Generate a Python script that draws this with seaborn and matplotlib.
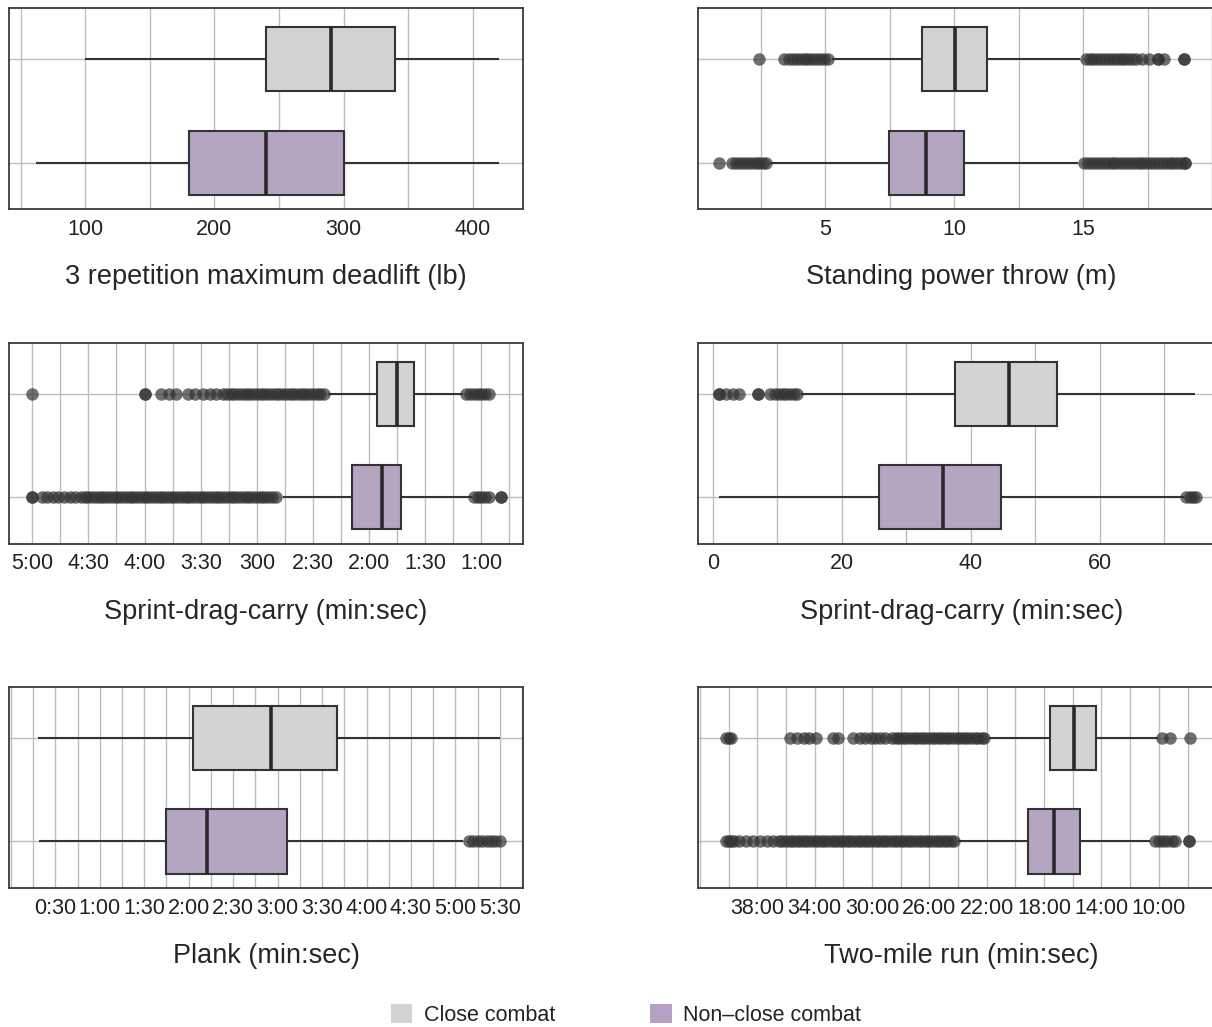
import pandas as pd
import seaborn as sns
import matplotlib
import matplotlib.pyplot as plt
from matplotlib.patches import Patch
from matplotlib.ticker import FixedLocator, MultipleLocator

matplotlib.use('Agg')

# groups and colours
groups = ['Close combat', 'Non\u2013close combat']
group_colors = ['#d2d3d2', '#b4a1c5']

# box summaries: whisker end, q1, median, q3, whisker end
deadlift_close = [100, 240, 290, 340, 420]
deadlift_nonclose = [62, 180, 240, 300, 420]

throw_close = [5.25, 8.74, 10.03, 11.26, 14.88]
throw_nonclose = [2.88, 7.47, 8.92, 10.39, 14.82]
throw_out_close = [2.45, 3.4, 3.6, 3.75, 3.9, 4.05, 4.2, 4.35, 4.5, 4.65, 4.8, 4.95, 5.1,
                   15.1, 15.25, 15.4, 15.55, 15.7, 15.85, 16.0, 16.15, 16.3, 16.45, 16.6,
                   16.75, 16.9, 17.05, 17.3, 17.55, 17.9, 17.9, 18.15, 18.9, 18.9]
throw_out_nonclose = [0.9, 1.4, 1.55, 1.7, 1.85, 2.0, 2.15, 2.3, 2.45, 2.6, 2.7,
                      15.05, 15.2, 15.35, 15.5, 15.65, 15.8, 15.95, 16.1, 16.25, 16.4,
                      16.55, 16.7, 16.85, 17.0, 17.15, 17.3, 17.45, 17.6, 17.75, 17.9,
                      18.05, 18.2, 18.35, 18.5, 18.65, 18.8, 18.95, 18.95]

# sprint-drag-carry, seconds
sdc_close = [70, 96, 105, 116, 142]
sdc_nonclose = [65, 103, 113, 129, 166]
sdc_out_close = [300, 240, 240, 231, 227, 223, 217, 213, 209, 205, 202,
                 198, 196, 194, 192, 190, 188, 186, 184, 182, 180, 178, 176, 174, 172,
                 170, 168, 166, 164, 162, 160, 158, 156, 154, 152, 150, 148, 146, 144,
                 68, 66, 64, 62, 60, 58, 56]
sdc_out_nonclose = [300, 300, 295, 292, 289, 286, 283, 280, 277, 274,
                    272, 270, 268, 266, 264, 262, 260, 258, 256, 254, 252, 250, 248, 246,
                    244, 242, 240, 238, 236, 234, 232, 230, 228, 226, 224, 222, 220, 218,
                    216, 214, 212, 210, 208, 206, 204, 202, 200, 198, 196, 194, 192, 190,
                    188, 186, 184, 182, 180, 178, 176, 174, 172, 170,
                    64, 62, 60, 58, 56, 49.5, 49.5]
sdc_ticks = [300, 270, 240, 210, 180, 150, 120, 90, 60]
sdc_ticklabels = ['5:00', '4:30', '4:00', '3:30', '300', '2:30', '2:00', '1:30', '1:00']

# second sprint-drag-carry panel
sdc2_close = [13.6, 37.5, 45.9, 53.4, 74.7]
sdc2_nonclose = [0.95, 25.8, 35.7, 44.7, 73.05]
sdc2_out_close = [0.95, 0.95, 2.0, 3.05, 4.1, 7.0, 7.0, 8.84,
                  9.6, 10.2, 10.8, 11.4, 12.0, 12.6, 13.1]
sdc2_out_nonclose = [73.4, 73.9, 74.4, 74.9]

# plank, seconds
plank_close = [18.4, 123.2, 175.4, 219.9, 330.2]
plank_nonclose = [19.1, 104.8, 132.1, 186.4, 305.2]
plank_out_close = []
plank_out_nonclose = [309, 312, 315, 318, 321, 324, 327, 330]
plank_ticks = [30, 60, 90, 120, 150, 180, 210, 240, 270, 300, 330]

# two-mile run, minutes
run_close = [10.03, 14.39, 15.9, 17.6, 21.86]
run_nonclose = [10.62, 15.47, 17.32, 19.14, 23.99]
run_out_close = [40.2, 40.0, 39.8, 35.7, 35.2, 34.75, 34.4, 33.9, 32.7, 32.4,
                 31.3, 30.85, 30.5, 30.1, 29.8, 29.45, 29.1,
                 28.6, 28.35, 28.1, 27.85, 27.6, 27.35, 27.1, 26.85, 26.6, 26.35, 26.1,
                 25.85, 25.6, 25.35, 25.1, 24.85, 24.6, 24.35, 24.1, 23.85, 23.6, 23.35,
                 23.1, 22.85, 22.6, 22.35, 22.2,
                 9.8, 9.2, 7.8]
run_out_nonclose = [40.2, 40.0, 39.8, 39.6, 39.3, 38.8, 38.3, 37.8, 37.3, 36.9,
                    36.5, 36.25, 36.0, 35.75, 35.5, 35.25, 35.0, 34.75, 34.5, 34.25,
                    34.0, 33.75, 33.5, 33.25, 33.0, 32.75, 32.5, 32.25, 32.0, 31.75,
                    31.5, 31.25, 31.0, 30.75, 30.5, 30.25, 30.0, 29.75, 29.5, 29.25,
                    29.0, 28.75, 28.5, 28.25, 28.0, 27.75, 27.5, 27.25, 27.0, 26.75,
                    26.5, 26.25, 26.0, 25.75, 25.5, 25.25, 25.0, 24.75, 24.5, 24.3,
                    10.3, 10.0, 9.7, 9.4, 9.1, 8.9, 7.9, 7.9]
run_ticks = [38, 34, 30, 26, 22, 18, 14, 10]

sns.set_theme(style='white')
plt.rcParams['font.family'] = ['Liberation Sans', 'DejaVu Sans']
plt.rcParams['text.color'] = '#222222'
plt.rcParams['xtick.color'] = '#222222'

TICK_FS = 15.5
LABEL_FS = 19.5
EDGE = '#333333'


def draw_panel(ax, box_close, box_nonclose, out_close, out_nonclose):
    """two horizontal boxes plus outlier points"""
    box_df = pd.DataFrame({'group': [groups[0]] * len(box_close) + [groups[1]] * len(box_nonclose),
                           'value': box_close + box_nonclose})
    sns.boxplot(data=box_df, x='value', y='group', hue='group', order=groups, hue_order=groups,
                palette=group_colors, whis=(0, 100), showfliers=False, showcaps=False,
                width=0.62, linewidth=1.5, linecolor=EDGE,
                medianprops={'linewidth': 2.6, 'color': '#2a2a2a'},
                legend=False, ax=ax)
    if out_close or out_nonclose:
        out_df = pd.DataFrame({'group': [groups[0]] * len(out_close) + [groups[1]] * len(out_nonclose),
                               'value': out_close + out_nonclose})
        sns.stripplot(data=out_df, x='value', y='group', order=groups, jitter=False,
                      color=EDGE, alpha=0.7, size=9, linewidth=0, ax=ax, zorder=3)
    ax.set_ylim(1.45, -0.495)
    ax.set_ylabel('')
    ax.set_yticks([0, 1])
    ax.set_yticklabels([])
    ax.set_axisbelow(True)
    ax.grid(True, which='both', color='#bdbdbd', linewidth=1)
    ax.tick_params(which='both', length=0)
    ax.tick_params(axis='x', labelsize=TICK_FS, pad=7)
    for s in ax.spines.values():
        s.set_visible(True)
        s.set_color('#3a3a3a')
        s.set_linewidth(1.3)


fig = plt.figure(figsize=(12.12, 10.27), dpi=100)
W, H = 1212, 1027
col_left = [8.7 / W, 698 / W]
col_width = [514.6 / W, 527 / W]
row_bottom = [1 - 209.2 / H, 1 - 543.6 / H, 1 - 888 / H]
row_height = 201 / H
LABELPAD = 17.5

axes = [[fig.add_axes([col_left[c], row_bottom[r], col_width[c], row_height]) for c in range(2)]
        for r in range(3)]

# deadlift
ax = axes[0][0]
draw_panel(ax, deadlift_close, deadlift_nonclose, [], [])
ax.set_xlim(40.8, 439)
ax.xaxis.set_major_locator(FixedLocator([100, 200, 300, 400]))
ax.xaxis.set_minor_locator(MultipleLocator(50))
ax.set_xlabel('3 repetition maximum deadlift (lb)', fontsize=LABEL_FS, labelpad=LABELPAD)

# standing power throw
ax = axes[0][1]
draw_panel(ax, throw_close, throw_nonclose, throw_out_close, throw_out_nonclose)
ax.set_xlim(0.07, 20.5)
ax.xaxis.set_major_locator(FixedLocator([5, 10, 15]))
ax.xaxis.set_minor_locator(MultipleLocator(2.5))
ax.set_xlabel('Standing power throw (m)', fontsize=LABEL_FS, labelpad=LABELPAD)

# sprint-drag-carry (time, reversed)
ax = axes[1][0]
draw_panel(ax, sdc_close, sdc_nonclose, sdc_out_close, sdc_out_nonclose)
ax.set_xlim(312.6, 37.6)
ax.xaxis.set_major_locator(FixedLocator(sdc_ticks))
ax.set_xticklabels(sdc_ticklabels)
ax.xaxis.set_minor_locator(MultipleLocator(15))
ax.set_xlabel('Sprint-drag-carry (min:sec)', fontsize=LABEL_FS, labelpad=LABELPAD)

# second sprint-drag-carry panel
ax = axes[1][1]
draw_panel(ax, sdc2_close, sdc2_nonclose, sdc2_out_close, sdc2_out_nonclose)
ax.set_xlim(-2.31, 79.4)
ax.xaxis.set_major_locator(FixedLocator([0, 20, 40, 60]))
ax.xaxis.set_minor_locator(MultipleLocator(10))
ax.set_xlabel('Sprint-drag-carry (min:sec)', fontsize=LABEL_FS, labelpad=LABELPAD)

# plank
ax = axes[2][0]
draw_panel(ax, plank_close, plank_nonclose, plank_out_close, plank_out_nonclose)
ax.set_xlim(-1.46, 345.8)
ax.xaxis.set_major_locator(FixedLocator(plank_ticks))
ax.set_xticklabels([f'{t // 60}:{t % 60:02d}' for t in plank_ticks])
ax.xaxis.set_minor_locator(MultipleLocator(15))
ax.set_xlabel('Plank (min:sec)', fontsize=LABEL_FS, labelpad=LABELPAD)

# two-mile run (reversed)
ax = axes[2][1]
draw_panel(ax, run_close, run_nonclose, run_out_close, run_out_nonclose)
ax.set_xlim(42.13, 5.39)
ax.xaxis.set_major_locator(FixedLocator(run_ticks))
ax.set_xticklabels([f'{t}:00' for t in run_ticks])
ax.xaxis.set_minor_locator(MultipleLocator(2))
ax.set_xlabel('Two-mile run (min:sec)', fontsize=LABEL_FS, labelpad=LABELPAD)

handles = [Patch(facecolor=c, edgecolor='none', label=g) for g, c in zip(groups, group_colors)]
fig.legend(handles=handles, loc='center', bbox_to_anchor=(0.5165, 1 - 1015 / H), ncol=2,
           frameon=False, fontsize=15.5, handlelength=1.0, handleheight=1.0,
           handletextpad=0.55, columnspacing=4.4)

fig.savefig('out.png', dpi=100)
